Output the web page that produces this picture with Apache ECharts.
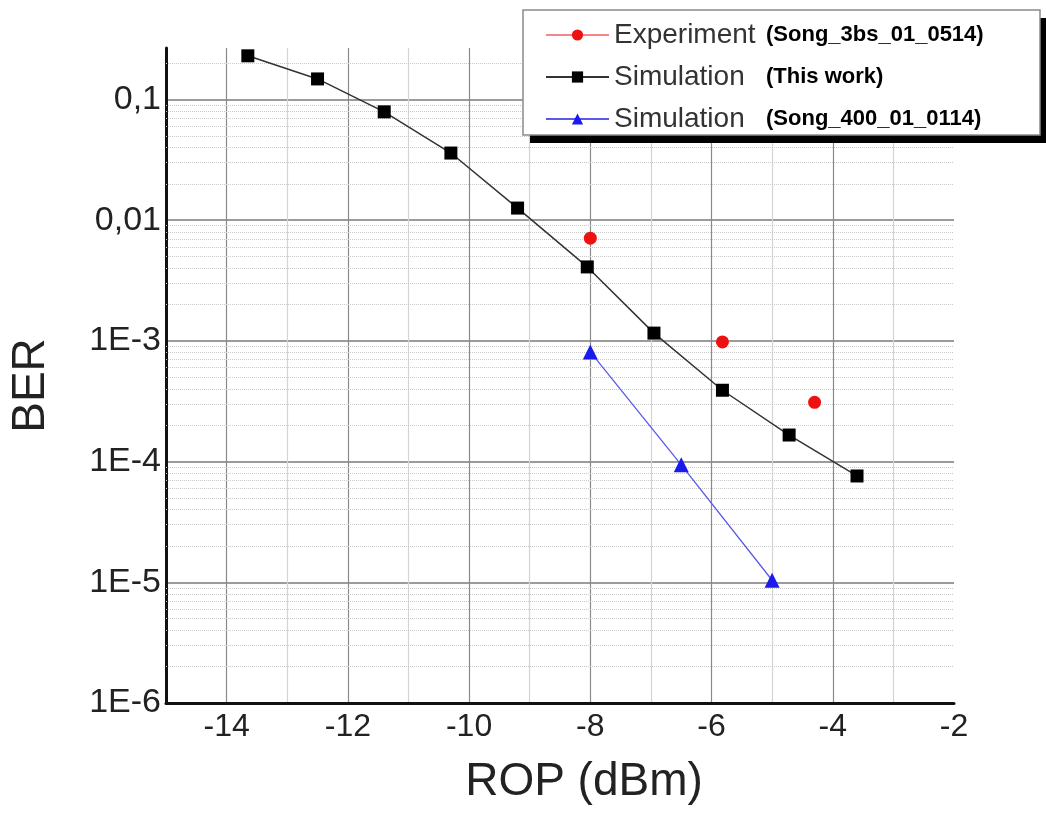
<!DOCTYPE html>
<html>
<head>
<meta charset="utf-8">
<script src="https://cdn.jsdelivr.net/npm/echarts@6/dist/echarts.min.js"></script>
<style>
html,body{margin:0;padding:0;background:#fff;}
#c{width:1046px;height:820px;}
</style>
</head>
<body>
<div id="c"></div>
<script>
// ---- data ----
const seriesNames = ['Experiment (Song_3bs_01_0514)', 'Simulation (This work)', 'Simulation (Song_400_01_0114)'];
const legendMain = ['Experiment', 'Simulation', 'Simulation'];
const legendNote = ['(Song_3bs_01_0514)', '(This work)', '(Song_400_01_0114)'];

const expX = [-8.0, -5.82, -4.3];
const expY = [0.0071, 0.00098, 0.00031];

const simX = [-13.65, -12.5, -11.4, -10.3, -9.2, -8.05, -6.95, -5.82, -4.72, -3.6];
const simY = [0.23, 0.148, 0.079, 0.036, 0.0126, 0.0041, 0.00116, 0.00039, 0.000166, 0.000076];

const refX = [-8.0, -6.5, -5.0];
const refY = [0.00081, 0.000094, 0.0000104];

const yTickValues = [1e-6, 1e-5, 1e-4, 1e-3, 1e-2, 1e-1];
const yTickLabels = ['1E-6', '1E-5', '1E-4', '1E-3', '0,01', '0,1'];
const xTickLabels = ['-14', '-12', '-10', '-8', '-6', '-4', '-2'];

const xMin = -15, xMax = -2, yMin = 1e-6, yMax = 0.267;

// minor log grid values (2..9 x 10^n)
const minorY = [];
for (let e = -6; e <= -1; e++) {
  for (let m = 2; m <= 9; m++) {
    const v = m * Math.pow(10, e);
    if (v < yMax) minorY.push(v);
  }
}

function zip(xs, ys) { return xs.map((x, i) => [x, ys[i]]); }

const chart = echarts.init(document.getElementById('c'));
const FONT = "'Liberation Sans', Arial, sans-serif";

chart.setOption({
  animation: false,
  backgroundColor: '#fff',
  grid: { left: 166, right: 92, top: 48, bottom: 117 },
  graphic: [
    { type: 'rect', z: 10, silent: true, shape: { x: 530, y: 18, width: 520, height: 125 }, style: { fill: '#000' } },
    { type: 'rect', z: 11, silent: true, shape: { x: 523, y: 10, width: 517, height: 125 }, style: { fill: '#fff', stroke: '#8a8a8a', lineWidth: 1.5 } }
  ],
  legend: {
    orient: 'vertical',
    left: 523, top: 10,
    z: 20,
    padding: [11, 55, 5, 22],
    itemGap: 14,
    itemWidth: 63, itemHeight: 14,
    data: [
      { name: seriesNames[0], lineStyle: { color: '#ee1111', width: 1.2, opacity: 1 } },
      { name: seriesNames[1] },
      { name: seriesNames[2] }
    ],
    formatter: function (name) {
      const i = seriesNames.indexOf(name);
      return '{a|' + legendMain[i] + '}{b|' + legendNote[i] + '}';
    },
    textStyle: {
      rich: {
        a: { fontFamily: FONT, fontSize: 28, color: '#333', width: 152, lineHeight: 30 },
        b: { fontFamily: FONT, fontSize: 22, fontWeight: 'bold', color: '#000', lineHeight: 30 }
      }
    }
  },
  xAxis: {
    type: 'value',
    min: xMin, max: xMax, interval: 1,
    name: 'ROP (dBm)',
    nameLocation: 'middle',
    nameGap: 56,
    nameTextStyle: { fontFamily: FONT, fontSize: 46, color: '#222', padding: [0, 0, 0, 48] },
    axisLine: { show: true, onZero: false, lineStyle: { color: '#111', width: 3 } },
    axisTick: { show: false },
    axisLabel: {
      fontFamily: FONT, fontSize: 32, color: '#222', margin: 8,
      formatter: function (v) {
        const s = String(Math.round(v));
        return xTickLabels.indexOf(s) >= 0 ? s : '';
      }
    },
    splitLine: { show: true, showMaxLine: false, lineStyle: { color: ['#d4d4d4', '#8a8a8a'], width: 1.2 } }
  },
  yAxis: {
    type: 'log', logBase: 10,
    min: yMin, max: yMax,
    name: 'BER',
    nameLocation: 'middle',
    nameGap: 112,
    nameTextStyle: { fontFamily: FONT, fontSize: 46, color: '#222', padding: [0, 20, 0, 0] },
    axisLine: { show: true, onZero: false, lineStyle: { color: '#111', width: 3 } },
    axisTick: { show: false },
    axisLabel: {
      fontFamily: FONT, fontSize: 34, color: '#222', margin: 5, showMaxLabel: false,
      formatter: function (v) {
        const i = yTickValues.findIndex(t => Math.abs(Math.log10(t) - Math.log10(v)) < 1e-6);
        return i >= 0 ? yTickLabels[i] : '';
      }
    },
    splitLine: { show: true, showMaxLine: false, lineStyle: { color: '#7a7a7a', width: 1.5 } }
  },
  series: [
    {
      name: seriesNames[0], type: 'line',
      data: zip(expX, expY),
      symbol: 'circle', symbolSize: 13,
      itemStyle: { color: '#ee1111' },
      lineStyle: { color: '#ee1111', opacity: 0 },
      z: 5
    },
    {
      name: seriesNames[1], type: 'line',
      data: zip(simX, simY),
      symbol: 'rect', symbolSize: 13,
      itemStyle: { color: '#000' },
      lineStyle: { color: '#333', width: 1.5 },
      z: 4,
      markLine: {
        silent: true, symbol: 'none', label: { show: false },
        precision: 12,
        lineStyle: { color: '#c8c8c8', width: 1, type: 'dotted' },
        data: minorY.map(v => ({ yAxis: v })),
        z: 1
      }
    },
    {
      name: seriesNames[2], type: 'line',
      data: zip(refX, refY),
      symbol: 'triangle', symbolSize: 15,
      itemStyle: { color: '#1a1aee' },
      lineStyle: { color: '#5a5ae8', width: 1.3 },
      z: 4
    }
  ]
});
</script>
</body>
</html>
